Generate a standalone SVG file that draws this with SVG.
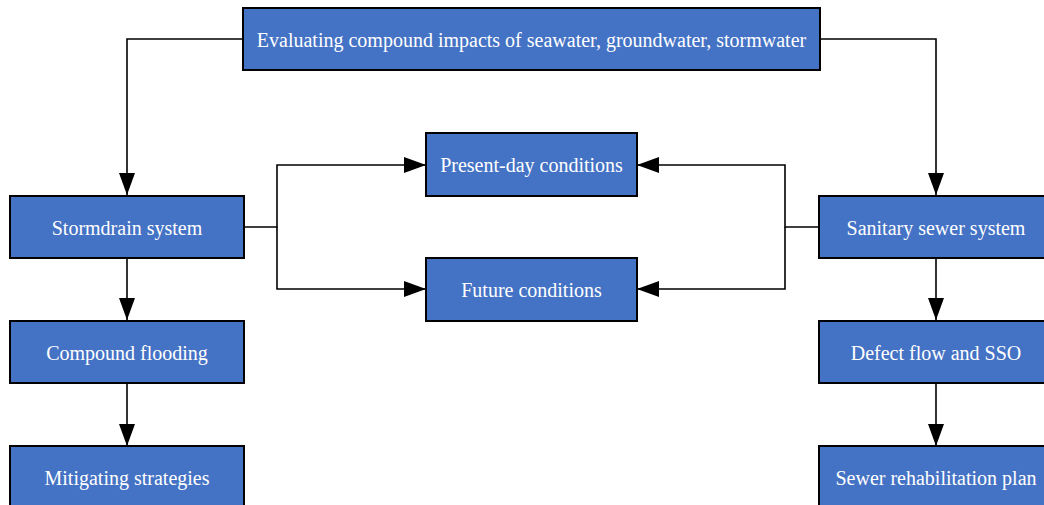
<svg xmlns="http://www.w3.org/2000/svg" width="1044" height="505" viewBox="0 0 1044 505">
<defs>
<marker id="ah" markerWidth="22" markerHeight="16" refX="22" refY="8" orient="auto" markerUnits="userSpaceOnUse">
<path d="M0,0 L22,8 L0,16 Z" fill="#000"/>
</marker>
<style>
.box{fill:#4472C4;stroke:#000;stroke-width:2}
.lbl{font-family:"Liberation Serif","Times New Roman",serif;font-size:20px;fill:#fff;text-anchor:middle;dominant-baseline:central}
.edge{fill:none;stroke:#000;stroke-width:1.6}
</style>
</defs>
<rect width="1044" height="505" fill="#fff"/>
<g id="connectors">
<path class="edge" d="M243,39 H127 V195" marker-end="url(#ah)"/>
<path class="edge" d="M820,39 H936 V195" marker-end="url(#ah)"/>
<path class="edge" d="M244,227 H277 V165 H426" marker-end="url(#ah)"/>
<path class="edge" d="M277,227 V289 H426" marker-end="url(#ah)"/>
<path class="edge" d="M819,227 H785 V165 H637" marker-end="url(#ah)"/>
<path class="edge" d="M785,227 V289 H637" marker-end="url(#ah)"/>
<path class="edge" d="M127,258 V320" marker-end="url(#ah)"/>
<path class="edge" d="M127,383 V446" marker-end="url(#ah)"/>
<path class="edge" d="M936,258 V320" marker-end="url(#ah)"/>
<path class="edge" d="M936,383 V446" marker-end="url(#ah)"/>
</g>
<g id="top"><rect class="box" x="243" y="8" width="577" height="62"/><text class="lbl" x="531.5" y="40">Evaluating compound impacts of seawater, groundwater, stormwater</text></g>
<g id="stormdrain"><rect class="box" x="10" y="196" width="234" height="62"/><text class="lbl" x="127" y="228">Stormdrain system</text></g>
<g id="flooding"><rect class="box" x="10" y="321" width="234" height="62"/><text class="lbl" x="127" y="353">Compound flooding</text></g>
<g id="mitigating"><rect class="box" x="10" y="446" width="234" height="62"/><text class="lbl" x="127" y="478">Mitigating strategies</text></g>
<g id="present"><rect class="box" x="426" y="133" width="211" height="63"/><text class="lbl" x="531.5" y="165">Present-day conditions</text></g>
<g id="future"><rect class="box" x="426" y="258" width="211" height="63"/><text class="lbl" x="531.5" y="290">Future conditions</text></g>
<g id="sanitary"><rect class="box" x="819" y="196" width="234" height="62"/><text class="lbl" x="936" y="228">Sanitary sewer system</text></g>
<g id="defect"><rect class="box" x="819" y="321" width="234" height="62"/><text class="lbl" x="936" y="353">Defect flow and SSO</text></g>
<g id="rehab"><rect class="box" x="819" y="446" width="234" height="62"/><text class="lbl" x="936" y="478">Sewer rehabilitation plan</text></g>
</svg>
